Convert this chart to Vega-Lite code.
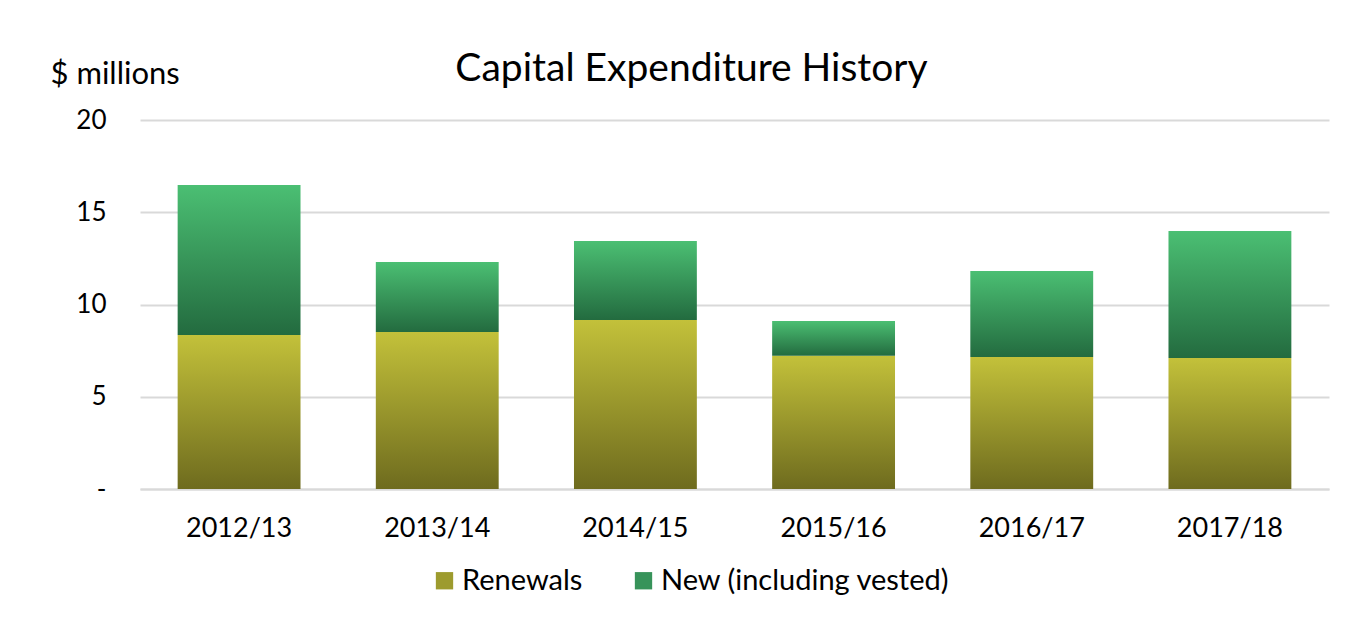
{
  "$schema": "https://vega.github.io/schema/vega-lite/v6.json",
  "autosize": {"type": "none"},
  "width": 1189,
  "height": 369,
  "padding": {"left": 140, "top": 120, "right": 30, "bottom": 128},
  "background": "white",
  "title": {
    "text": "Capital Expenditure History",
    "font": "Lato",
    "fontSize": 39,
    "fontWeight": "normal",
    "color": "#000000",
    "anchor": "middle",
    "dx": -43,
    "baseline": "alphabetic",
    "offset": -62
  },
  "data": {
    "values": [
      {"year": "2012/13", "type": "Renewals", "value": 8.35},
      {"year": "2012/13", "type": "New (including vested)", "value": 8.13},
      {"year": "2013/14", "type": "Renewals", "value": 8.51},
      {"year": "2013/14", "type": "New (including vested)", "value": 3.79},
      {"year": "2014/15", "type": "Renewals", "value": 9.16},
      {"year": "2014/15", "type": "New (including vested)", "value": 4.28},
      {"year": "2015/16", "type": "Renewals", "value": 7.22},
      {"year": "2015/16", "type": "New (including vested)", "value": 1.89},
      {"year": "2016/17", "type": "Renewals", "value": 7.15},
      {"year": "2016/17", "type": "New (including vested)", "value": 4.67},
      {"year": "2017/18", "type": "Renewals", "value": 7.10},
      {"year": "2017/18", "type": "New (including vested)", "value": 6.88}
    ]
  },
  "encoding": {
    "x": {
      "field": "year",
      "type": "nominal",
      "scale": {"paddingInner": 0.38, "paddingOuter": 0.19},
      "axis": {
        "title": null,
        "labelAngle": 0,
        "labelFont": "Lato",
        "labelFontSize": 27,
        "labelColor": "#000000",
        "labelPadding": 26,
        "ticks": false,
        "domain": true,
        "domainColor": "#d9d9d9",
        "domainWidth": 2
      }
    },
    "y": {
      "field": "value",
      "type": "quantitative",
      "stack": "zero",
      "scale": {"domain": [0, 20]},
      "axis": {
        "values": [0, 5, 10, 15, 20],
        "labelExpr": "datum.value == 0 ? '-' : datum.label",
        "title": "$ millions",
        "titleAngle": 0,
        "titleAlign": "left",
        "titleBaseline": "alphabetic",
        "titleX": -90,
        "titleY": -37,
        "titleFont": "Lato",
        "titleFontSize": 31,
        "titleFontWeight": "normal",
        "titleColor": "#000000",
        "labelFont": "Lato",
        "labelFontSize": 26,
        "labelColor": "#000000",
        "labelPadding": 34,
        "ticks": false,
        "domain": false,
        "grid": true,
        "gridColor": "#d9d9d9",
        "gridWidth": 2
      }
    },
    "order": {"field": "type", "sort": "descending"}
  },
  "layer": [
    {
      "mark": {"type": "bar", "opacity": 0},
      "encoding": {
        "color": {
          "field": "type",
          "type": "nominal",
          "scale": {
            "domain": ["Renewals", "New (including vested)"],
            "range": ["#9d9b2e", "#37935a"]
          },
          "legend": {
            "title": null,
            "orient": "none",
            "legendX": 290,
            "legendY": 446,
            "direction": "horizontal",
            "symbolType": "square",
            "symbolSize": 300,
            "symbolOpacity": 1,
            "symbolStrokeWidth": 0,
            "labelFont": "Lato",
            "labelFontSize": 29,
            "labelColor": "#000000",
            "labelOffset": 3,
            "labelLimit": 0,
            "columnPadding": 46
          }
        }
      }
    },
    {
      "mark": {"type": "bar"},
      "encoding": {
        "detail": {"field": "type", "type": "nominal"},
        "color": {
          "condition": {
            "test": "datum.type === 'Renewals'",
            "value": {"gradient": "linear", "x1": 0, "y1": 0, "x2": 0, "y2": 1, "stops": [{"offset": 0, "color": "#c3c13a"}, {"offset": 1, "color": "#6e6b1e"}]}
          },
          "value": {"gradient": "linear", "x1": 0, "y1": 0, "x2": 0, "y2": 1, "stops": [{"offset": 0, "color": "#4bbf73"}, {"offset": 1, "color": "#236b3f"}]}
        }
      }
    }
  ],
  "config": {
    "view": {"stroke": null}
  }
}
